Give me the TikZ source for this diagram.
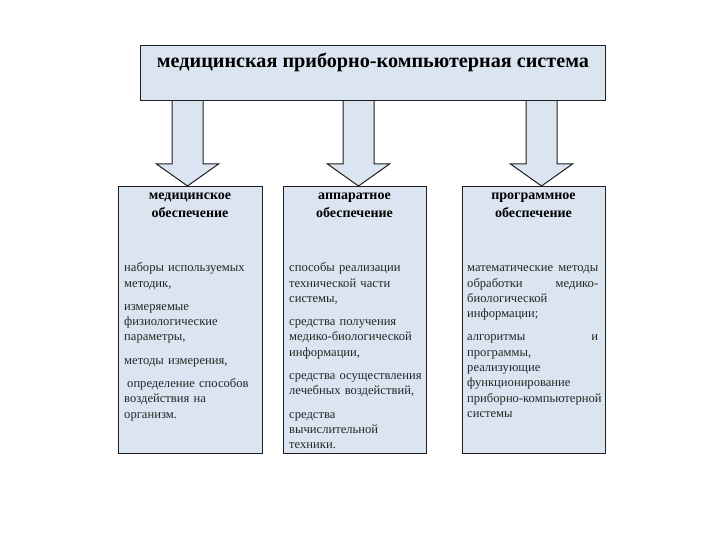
\documentclass[tikz,border=0pt]{standalone}
\usepackage{fontspec}
\setmainfont{Liberation Serif}
\definecolor{boxfill}{HTML}{DBE5F1}
\definecolor{edge}{HTML}{1E1E1E}
\newcommand{\justline}[1]{\makebox[131pt][s]{#1}}
\begin{document}
\begin{tikzpicture}[x=1pt,y=-1pt,
  panel/.style={draw=edge, line width=1.2pt, fill=boxfill, inner sep=0pt, anchor=north west},
  blockarrow/.style={draw=edge, line width=1pt, fill=boxfill, line join=miter},
  titletext/.style={font=\bfseries\fontsize{20.2}{24}\selectfont, inner sep=0pt},
  headtext/.style={font=\bfseries\fontsize{14}{17.8}\selectfont, align=center, inner sep=0pt},
  bodytext/.style={font=\fontsize{12.6}{15.3}\selectfont, align=left, text width=160pt, inner sep=0pt, anchor=north west, text=black!85}
]
\useasboundingbox (0,0) rectangle (720,540);
% arrows (drawn first, under the boxes)
\foreach \x/\n in {187.5/a1,358.5/a2,541.5/a3}{
  \draw[blockarrow] (\x-15.5,99) -- (\x-15.5,164) -- (\x-31,164) -- (\x,186) -- (\x+31,164) -- (\x+15.5,164) -- (\x+15.5,99);
}
% top box
\node[panel, minimum width=465pt, minimum height=55pt] (top) at (140,45) {};
\node[titletext] (ttl) at (373,62) {медицинская приборно-компьютерная система};
% column boxes
\node[panel, minimum width=144pt, minimum height=267pt] (med) at (118,186) {};
\node[panel, minimum width=143pt, minimum height=267pt] (app) at (283,186) {};
\node[panel, minimum width=143pt, minimum height=267pt] (prog) at (462,186) {};
% headers
\node[headtext] (hmed) at (190,205) {медицинское\\обеспечение};
\node[headtext] (happ) at (354.5,205) {аппаратное\\обеспечение};
\node[headtext] (hprog) at (533.5,205) {программное\\обеспечение};
% body texts
\node[bodytext] (tmed) at (124,262.5) {наборы используемых\\методик,\\[8pt]
измеряемые\\физиологические\\параметры,\\[8pt]
методы измерения,\\[8pt]
\hspace{3pt}определение способов\\воздействия на\\организм.};
\node[bodytext] (tapp) at (289,262.5) {способы реализации\\технической части\\системы,\\[8pt]
средства получения\\медико-биологической\\информации,\\[8pt]
средства осуществления\\лечебных воздействий,\\[8pt]
средства\\вычислительной\\техники.};
\node[bodytext] (tprog) at (467,262.5) {\vphantom{б}\justline{математические\hfill методы}\\\justline{обработки\hfill медико-}\\биологической\\информации;\\[8pt]
\justline{алгоритмы\hfill и}\\программы,\\реализующие\\функционирование\\приборно-компьютерной\\системы};
\end{tikzpicture}
\end{document}
